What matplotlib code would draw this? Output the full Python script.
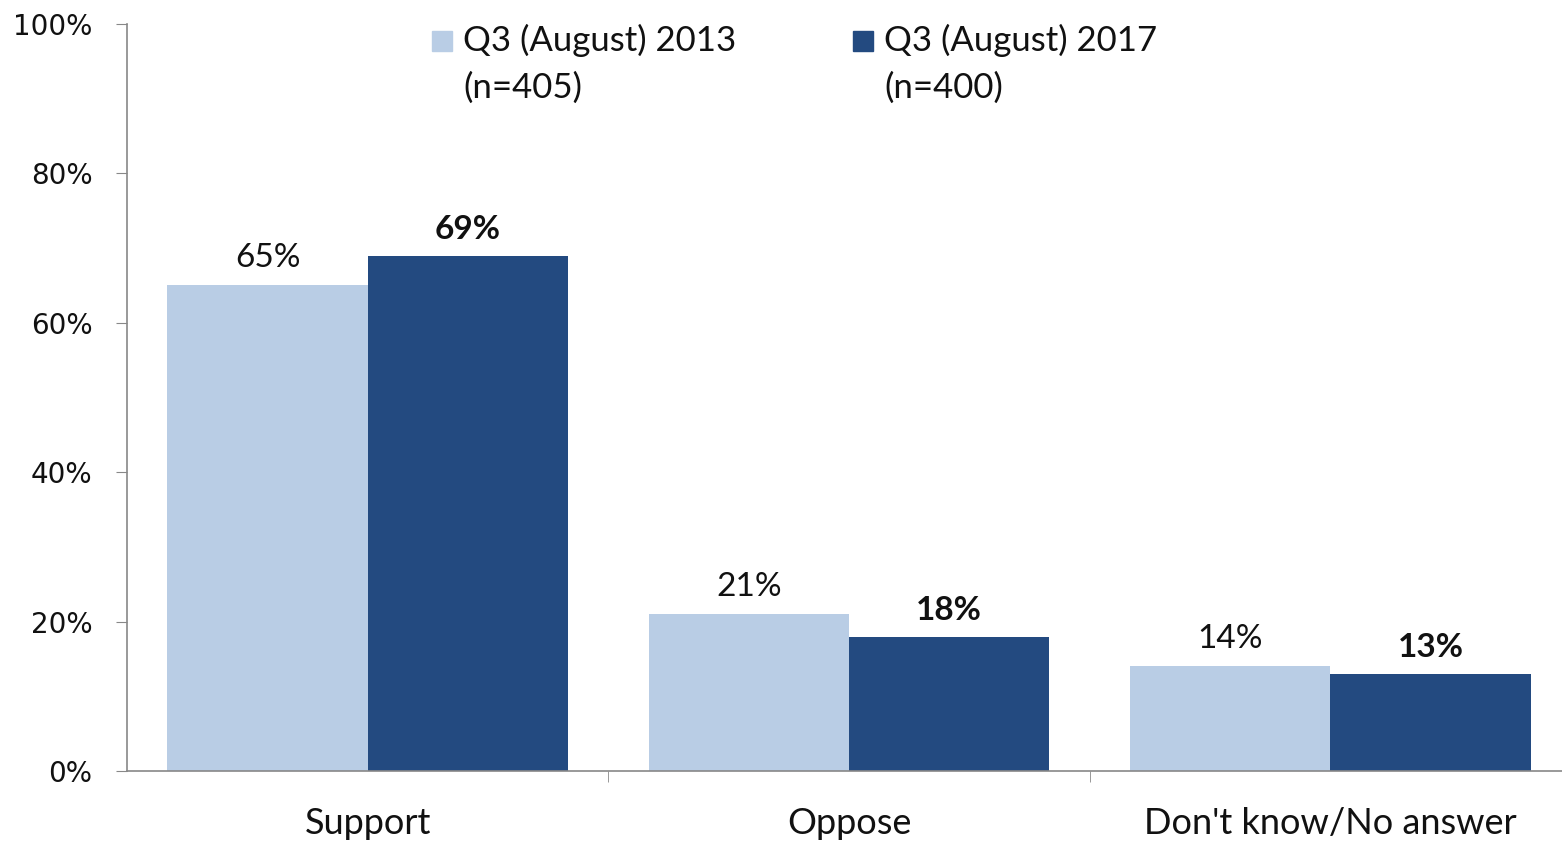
import matplotlib
matplotlib.use("Agg")
import matplotlib.pyplot as plt
import numpy as np
from matplotlib.patches import Rectangle

categories = ["Support", "Oppose", "Don't know/No answer"]
series_line1 = ["Q3 (August) 2013", "Q3 (August) 2017"]
series_line2 = ["(n=405)", "(n=400)"]
values_2013 = [65, 21, 14]
values_2017 = [69, 18, 13]
yticks = [0, 20, 40, 60, 80, 100]

light = "#b9cde5"
dark = "#234a80"

fig = plt.figure(figsize=(15.62, 8.42), dpi=100)
W, H = 1562, 842
x0, x1 = 127, 1562
y0, y1 = 771, 24
ax = fig.add_axes([x0 / W, 1 - y0 / H, (x1 - x0) / W, (y0 - y1) / H])

x = np.arange(len(categories))
bw = 0.416
off = 0.208
ax.bar(x - off, values_2013, bw, color=light)
ax.bar(x + off, values_2017, bw, color=dark)

for xi, v in zip(x - off, values_2013):
    ax.text(xi, v + 1.6, f"{v}%", ha="center", va="bottom", fontsize=24,
            family="Lato", color="#111111")
for xi, v in zip(x + off, values_2017):
    ax.text(xi, v + 1.6, f"{v}%", ha="center", va="bottom", fontsize=24,
            family="Lato", fontweight="bold", color="#111111")

ax.set_ylim(0, 100)
ax.set_xlim(-0.5, 2.5 - 9 / 481)
ax.set_yticks(yticks)
ax.set_yticklabels([f"{t}%" for t in yticks])
ax.tick_params(axis="y", labelfontfamily="DejaVu Sans", labelsize=20,
               labelcolor="#111111", length=8, color="#888888", pad=17)
ax.set_xticks(x)
ax.set_xticklabels(categories)
ax.tick_params(axis="x", labelfontfamily="Lato", labelsize=26,
               labelcolor="#111111", length=0, pad=26)
ax.set_xticks([0.5, 1.5], minor=True)
ax.tick_params(axis="x", which="minor", length=8, color="#888888", direction="out")

for s in ["top", "right"]:
    ax.spines[s].set_visible(False)
for s in ["left", "bottom"]:
    ax.spines[s].set_color("#888888")
    ax.spines[s].set_linewidth(1.2)

# legend (manual, two-line entries)
leg_items = [(432, 463, light), (853, 884, dark)]
for (mx, tx, col), l1, l2 in zip(leg_items, series_line1, series_line2):
    fig.patches.append(Rectangle((mx / W, 1 - 51 / H), 20 / W, 20 / H,
                                 transform=fig.transFigure, color=col))
    fig.text(tx / W, 1 - 40 / H, l1, ha="left", va="center", fontsize=25,
             family="Lato", color="#111111")
    fig.text(tx / W, 1 - 88 / H, l2, ha="left", va="center", fontsize=25,
             family="Lato", color="#111111")

fig.savefig("out.png", dpi=100, facecolor="white")
